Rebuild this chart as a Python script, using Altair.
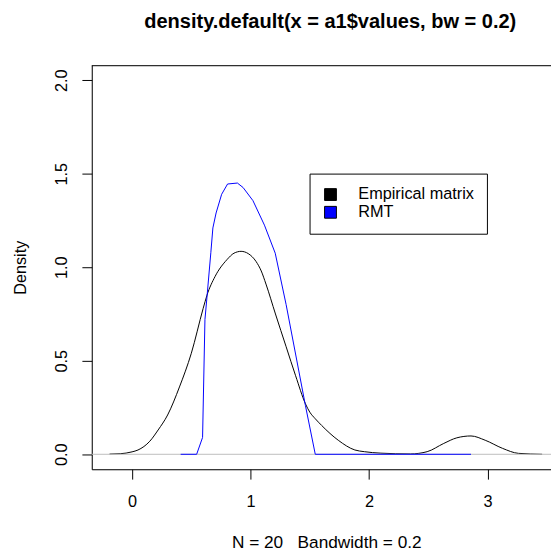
import altair as alt
import pandas as pd

# Empirical matrix density
black_x = [-0.19, -0.10, 0.0, 0.05, 0.15, 0.22, 0.30, 0.40, 0.50, 0.60, 0.632, 0.70, 0.80, 0.86, 0.92,
           0.98, 1.047, 1.09, 1.13, 1.21, 1.30, 1.38, 1.463, 1.50, 1.546, 1.60, 1.74, 1.88, 1.96, 2.10, 2.35,
           2.49, 2.63, 2.74, 2.86, 2.98, 3.125, 3.26, 3.46]
black_y = [0.001, 0.003, 0.013, 0.023, 0.07, 0.13, 0.21, 0.36, 0.54, 0.78, 0.85, 0.95, 1.04, 1.075, 1.085,
           1.073, 1.03, 0.98, 0.91, 0.75, 0.575, 0.42, 0.27, 0.225, 0.19, 0.154, 0.075, 0.023, 0.014, 0.006, 0.002,
           0.014, 0.058, 0.088, 0.098, 0.075, 0.032, 0.005, 0.0]

# RMT density
blue_x = [0.41, 0.545, 0.595, 0.615, 0.632, 0.665, 0.682, 0.709, 0.756, 0.806, 0.889, 0.937,
          1.02, 1.117, 1.208, 1.30, 1.463, 1.546, 2.86]
blue_y = [0.0, 0.0, 0.09, 0.72, 0.84, 1.08, 1.21, 1.29, 1.39, 1.445, 1.45, 1.426,
          1.356, 1.225, 1.075, 0.80, 0.26, 0.0, 0.0]

series = ["Empirical matrix", "RMT"]
colors = ["black", "#0000FF"]
x_ticks = [0, 1, 2, 3]
y_ticks = [0, 0.5, 1, 1.5, 2]

FONT = "Liberation Sans"
FS = 16.5
FS_T = 17.5
W, H = 466, 410

df_black = pd.DataFrame({"x": black_x, "y": black_y, "series": series[0]})
df_blue = pd.DataFrame({"x": blue_x, "y": blue_y, "series": series[1]})
df_all = pd.concat([df_black, df_blue], ignore_index=True)

xscale = alt.Scale(domain=[-0.34, 3.535], nice=False, zero=False)
yscale = alt.Scale(domain=[-0.08, 2.08], nice=False, zero=False)

xaxis = alt.Axis(values=x_ticks, format="d", tickSize=10, labelPadding=28, labelBaseline="alphabetic",
                 title="N = 20\u00a0\u00a0 Bandwidth = 0.2", titleX=238, titleY=79,
                 titleBaseline="alphabetic", titleAlign="center", grid=False,
                 domainColor="black", tickColor="black", labelColor="black", titleColor="black",
                 labelFont=FONT, titleFont=FONT, labelFontSize=FS, titleFontSize=FS_T,
                 titleFontWeight="normal")
yaxis = alt.Axis(values=y_ticks, format=".1f", tickSize=10, labelAngle=270, labelAlign="center",
                 labelBaseline="alphabetic", labelPadding=16,
                 title="Density", titleAngle=270, titleX=-67, titleY=205,
                 titleBaseline="alphabetic", titleAlign="center", grid=False,
                 domainColor="black", tickColor="black", labelColor="black", titleColor="black",
                 labelFont=FONT, titleFont=FONT, labelFontSize=FS, titleFontSize=FS,
                 titleFontWeight="normal")

black_line = alt.Chart(df_black).mark_line(color="black", strokeWidth=1, interpolate="monotone").encode(
    x=alt.X("x:Q", scale=xscale, axis=xaxis),
    y=alt.Y("y:Q", scale=yscale, axis=yaxis),
)

zero_line = alt.Chart(pd.DataFrame({"y": [0.0]})).mark_rule(color="#BEBEBE", strokeWidth=1).encode(
    y=alt.Y("y:Q", scale=yscale),
    x=alt.value(0),
    x2=alt.value(W),
)

blue_line = alt.Chart(df_blue).mark_line(color="#0000FF", strokeWidth=1).encode(
    x=alt.X("x:Q", scale=xscale),
    y=alt.Y("y:Q", scale=yscale),
)

top_rule = alt.Chart(pd.DataFrame({"a": [0]})).mark_rule(color="black", strokeWidth=1).encode(
    x=alt.value(0), x2=alt.value(W), y=alt.value(0.5)
)

legend_layer = alt.Chart(df_all).mark_square(opacity=0, size=0).encode(
    x=alt.X("x:Q", scale=xscale),
    y=alt.Y("y:Q", scale=yscale),
    fill=alt.Fill("series:N", scale=alt.Scale(domain=series, range=colors), sort=series,
                  title=None,
                  legend=alt.Legend(orient="none", legendX=221, legendY=110,
                                    symbolType="square", symbolSize=144,
                                    symbolStrokeColor="black", symbolStrokeWidth=1,
                                    symbolOpacity=1, labelFont=FONT, labelFontSize=FS,
                                    labelColor="black", padding=13, labelOffset=20,
                                    rowPadding=1, strokeColor="black", fillColor="white")),
)

chart = alt.layer(black_line, zero_line, blue_line, top_rule, legend_layer).properties(
    width=W, height=H,
    padding={"left": 85, "top": 54, "right": 0, "bottom": 86},
    autosize=alt.AutoSizeParams(type="none"),
    title=alt.Title("density.default(x = a1$values, bw = 0.2)", font=FONT, fontSize=20.3,
                    fontWeight="bold", color="black", anchor="middle", dx=9, offset=17,
                    baseline="alphabetic"),
).configure_view(stroke=None).configure(background="white")

chart.save("out.html", embed_options={"renderer": "svg", "actions": False})
